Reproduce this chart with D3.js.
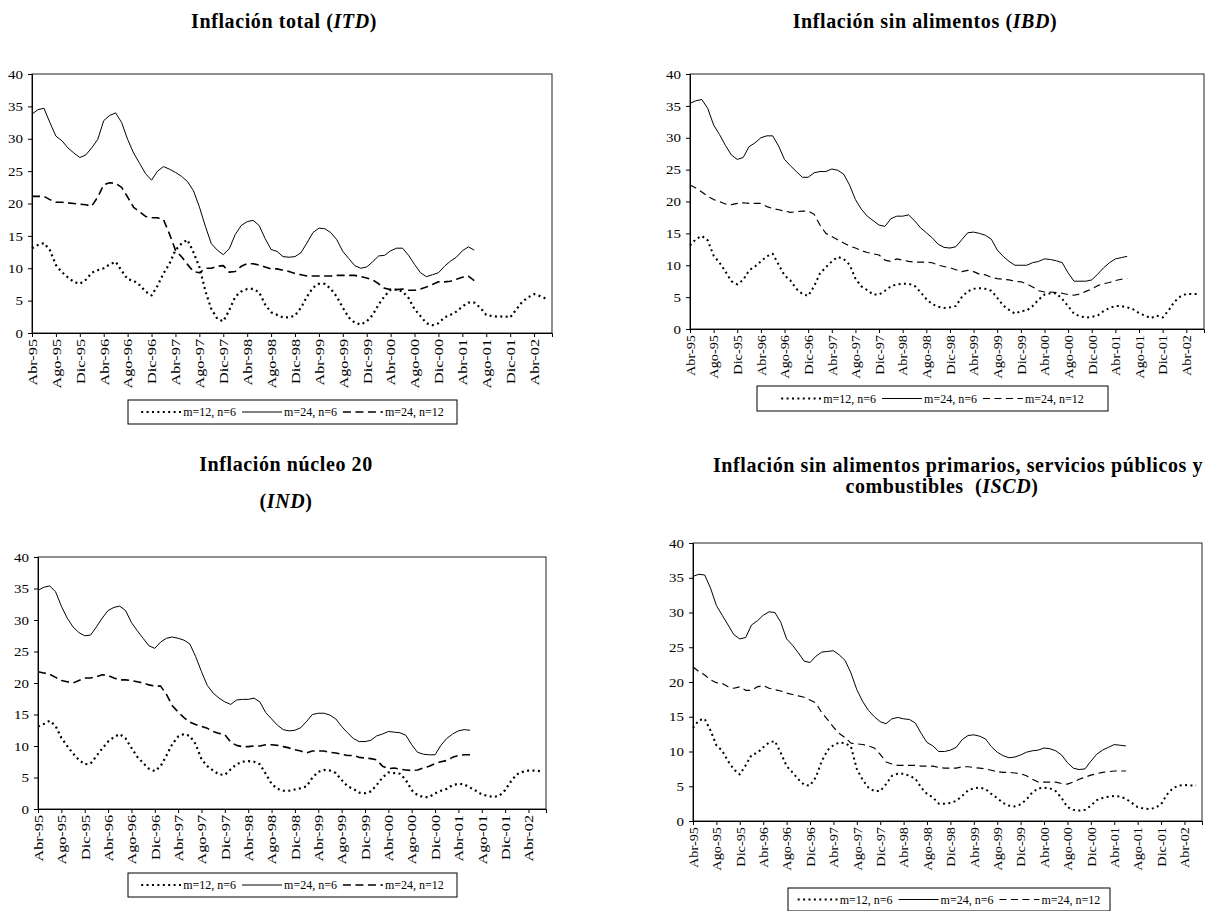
<!DOCTYPE html>
<html>
<head>
<meta charset="utf-8">
<script src="https://cdn.jsdelivr.net/npm/d3@7"></script>
<style>
  body { margin: 0; background: #fff; }
  svg { display: block; }
  text { font-family: "Liberation Serif", "Times New Roman", serif; fill: #000; }
</style>
</head>
<body>
<svg id="chart" width="1211" height="911"></svg>
<script>
// Monthly categories Abr-95 .. Jul-02
const monthNames = ["Ene","Feb","Mar","Abr","May","Jun","Jul","Ago","Sep","Oct","Nov","Dic"];
const firstMonth = 3, firstYear = 1995, monthCount = 88;

const xTickLabels = ["Abr-95","Ago-95","Dic-95","Abr-96","Ago-96","Dic-96","Abr-97","Ago-97","Dic-97",
  "Abr-98","Ago-98","Dic-98","Abr-99","Ago-99","Dic-99","Abr-00","Ago-00","Dic-00",
  "Abr-01","Ago-01","Dic-01","Abr-02"];
const yTickValues = [0, 5, 10, 15, 20, 25, 30, 35, 40];
const seriesNames = ["m=12, n=6", "m=24, n=6", "m=24, n=12"];

// Inflación total (ITD)
const itdM12n6 = [13.1,13.6,13.9,12.8,10.5,9.4,8.6,7.9,7.6,8.2,
  9.3,9.7,10.0,10.6,11.0,9.6,8.3,8.1,7.4,6.4,
  5.8,7.3,9.2,10.7,12.8,13.8,14.4,12.5,10.2,6.5,
  3.7,2.2,1.8,3.5,5.6,6.4,6.8,6.8,6.3,4.4,
  3.2,2.8,2.4,2.4,2.7,3.9,5.6,7.0,7.6,7.6,
  6.8,5.6,3.9,2.4,1.6,1.3,1.8,2.8,4.4,5.7,
  6.7,6.7,6.4,5.4,3.7,2.6,1.5,1.2,1.5,2.4,
  2.8,3.3,4.1,4.7,4.7,3.9,2.8,2.6,2.5,2.6,
  2.4,3.6,4.8,5.5,6.0,5.7,5.3];
const itdM24n6 = [33.8,34.5,34.7,32.5,30.4,29.7,28.6,27.8,27.1,27.5,
  28.6,29.9,32.8,33.6,34.0,32.5,29.9,27.8,26.2,24.6,
  23.6,25.0,25.7,25.3,24.8,24.2,23.4,22.0,19.5,16.5,
  13.8,12.8,12.1,13.0,15.2,16.6,17.2,17.4,16.6,14.6,
  12.9,12.6,11.8,11.7,11.8,12.4,13.9,15.5,16.2,16.1,
  15.5,14.4,12.6,11.5,10.4,10.0,10.2,11.0,11.9,12.0,
  12.7,13.1,13.1,12.0,10.6,9.3,8.7,9.0,9.3,10.3,
  11.1,11.7,12.7,13.3,12.8];
const itdM24n12 = [21.1,21.1,21.1,20.6,20.2,20.2,20.1,20.0,19.9,19.8,
  19.6,21.0,22.9,23.2,23.1,22.5,21.0,19.4,18.7,18.0,
  17.8,17.8,17.5,15.3,12.8,11.8,10.6,9.5,9.3,10.0,
  10.0,10.3,10.4,9.4,9.5,10.3,10.7,10.7,10.5,10.2,
  9.9,9.9,9.7,9.5,9.2,9.0,8.8,8.8,8.8,8.8,
  8.8,8.9,8.9,8.9,8.9,8.7,8.5,8.2,7.6,6.9,
  6.7,6.7,6.8,6.6,6.6,6.8,7.1,7.5,7.9,7.9,
  8.0,8.3,8.6,8.8,8.1];

// Inflación sin alimentos (IBD)
const ibdM12n6 = [13.1,14.1,14.6,13.9,11.5,10.4,9.0,7.5,7.0,7.7,
  9.2,9.8,10.6,11.4,11.8,10.1,8.4,7.6,6.3,5.5,
  5.2,6.7,8.7,9.7,10.6,11.3,11.0,10.1,7.9,6.7,
  6.1,5.4,5.4,6.0,6.7,7.0,7.1,7.1,6.8,5.8,
  4.7,3.9,3.5,3.3,3.4,3.6,5.0,5.9,6.3,6.4,
  6.3,6.0,4.9,3.7,3.0,2.4,2.8,2.9,3.6,4.6,
  5.4,5.6,5.6,4.7,3.6,2.4,2.0,1.8,1.9,2.1,
  2.8,3.3,3.6,3.6,3.4,3.1,2.5,2.1,1.7,2.1,
  1.8,2.9,4.3,5.1,5.5,5.5,5.5];
const ibdM24n6 = [35.4,35.8,36.0,34.6,32.0,30.5,28.8,27.3,26.6,26.9,
  28.6,29.2,30.0,30.3,30.3,28.7,26.6,25.6,24.7,23.8,
  23.8,24.5,24.7,24.7,25.1,24.9,24.3,22.6,20.3,18.8,
  17.7,17.0,16.3,16.1,17.3,17.7,17.7,17.9,17.0,15.9,
  15.1,14.3,13.3,12.8,12.7,12.9,14.0,15.1,15.2,15.0,
  14.7,14.1,12.4,11.4,10.6,10.0,10.0,10.0,10.4,10.6,
  11.0,10.9,10.7,10.4,8.8,7.5,7.5,7.5,7.7,8.6,
  9.6,10.4,11.0,11.2,11.4];
const ibdM24n12 = [22.6,22.1,21.5,20.8,20.3,20.0,19.6,19.5,19.7,19.8,
  19.7,19.7,19.7,19.2,18.9,18.7,18.5,18.3,18.4,18.5,
  18.5,18.0,16.3,15.0,14.5,14.0,13.5,13.0,12.7,12.3,
  12.0,11.8,11.6,10.8,10.6,11.0,10.8,10.6,10.5,10.5,
  10.5,10.4,10.0,9.8,9.6,9.3,9.0,9.2,9.0,8.6,
  8.5,8.1,7.9,7.8,7.7,7.5,7.4,7.1,6.6,6.0,
  5.8,5.8,5.7,5.6,5.4,5.3,5.5,5.9,6.3,6.8,
  7.1,7.3,7.6,7.8,7.9];

// Inflación núcleo 20 (IND)
const indM12n6 = [13.1,13.5,14.0,13.2,11.3,10.0,8.8,7.8,7.1,7.2,
  8.4,9.6,10.7,11.4,11.9,11.2,9.7,8.3,7.3,6.4,
  6.0,6.8,8.5,10.3,11.5,11.9,11.6,10.3,7.9,6.8,
  6.1,5.5,5.4,6.3,7.1,7.5,7.6,7.5,7.1,5.6,
  4.0,3.2,2.9,2.9,3.1,3.3,3.6,5.0,5.9,6.2,
  6.1,5.7,4.6,3.6,3.2,2.6,2.5,2.8,3.8,5.0,
  5.8,5.7,5.6,4.6,3.0,2.2,1.9,1.9,2.5,2.9,
  3.2,3.8,4.0,3.9,3.4,2.9,2.3,2.1,1.9,2.1,
  3.0,4.4,5.5,5.9,6.1,6.1,6.0];
const indM24n6 = [34.7,35.2,35.4,34.5,32.2,30.3,28.9,28.0,27.5,27.6,
  28.9,30.3,31.5,32.0,32.2,31.5,29.6,28.3,27.1,25.9,
  25.5,26.5,27.1,27.3,27.1,26.8,26.2,24.2,21.8,19.6,
  18.4,17.6,17.0,16.6,17.3,17.4,17.4,17.6,17.0,15.3,
  14.3,13.3,12.6,12.4,12.5,12.9,13.9,15.0,15.2,15.2,
  14.9,14.3,13.1,12.1,11.2,10.7,10.7,10.9,11.6,11.9,
  12.3,12.2,12.1,11.7,10.2,9.0,8.7,8.6,8.6,10.1,
  11.2,11.9,12.4,12.6,12.5];
const indM24n12 = [21.8,21.6,21.4,20.9,20.4,20.2,20.0,20.4,20.8,20.8,
  21.0,21.3,21.2,20.8,20.5,20.5,20.4,20.2,20.0,19.7,
  19.5,19.5,18.2,16.4,15.4,14.5,13.8,13.4,13.1,12.8,
  12.3,12.0,11.8,10.6,10.1,9.9,9.9,10.0,10.0,10.2,
  10.2,10.1,9.9,9.7,9.4,9.2,8.9,9.2,9.2,9.2,
  9.0,8.9,8.7,8.5,8.5,8.2,8.1,8.0,7.8,6.8,
  6.4,6.5,6.3,6.2,6.1,6.2,6.5,6.8,7.2,7.5,
  7.7,8.2,8.5,8.6,8.6];

// Inflación sin alimentos primarios, servicios públicos y combustibles (ISCD)
const iscdM12n6 = [13.4,14.5,14.7,13.0,10.9,10.1,8.6,7.4,6.7,8.0,
  9.5,9.8,10.6,11.3,11.5,9.8,7.9,7.0,6.0,5.2,
  5.1,6.3,8.6,10.2,10.9,11.3,11.2,10.7,7.5,5.9,
  4.8,4.3,4.3,5.3,6.5,6.8,6.8,6.5,6.1,4.8,
  3.9,3.4,2.5,2.5,2.6,2.9,3.6,4.4,4.7,4.8,
  4.6,3.9,3.3,2.6,2.2,2.1,2.4,3.1,4.1,4.7,
  4.8,4.7,4.3,3.3,2.0,1.6,1.5,1.6,2.2,3.0,
  3.3,3.5,3.6,3.5,3.2,2.6,2.0,1.8,1.7,1.9,
  2.4,3.8,4.7,5.1,5.2,5.1,5.1];
const iscdM24n6 = [35.2,35.5,35.4,33.5,31.0,29.6,28.2,26.8,26.2,26.4,
  28.2,28.8,29.6,30.1,30.0,28.6,26.2,25.3,24.2,23.0,
  22.8,23.7,24.3,24.4,24.5,23.9,23.1,21.3,18.9,17.2,
  15.9,15.0,14.3,14.0,14.7,14.9,14.7,14.6,14.1,12.6,
  11.3,10.8,10.0,10.0,10.2,10.6,11.7,12.3,12.4,12.2,
  11.8,10.7,9.9,9.4,9.1,9.2,9.5,9.9,10.1,10.2,
  10.5,10.4,10.1,9.5,8.4,7.6,7.4,7.5,8.6,9.6,
  10.2,10.6,11.0,10.9,10.8];
const iscdM24n12 = [22.2,21.5,21.0,20.3,19.9,19.8,19.3,19.1,19.3,18.8,
  18.8,19.3,19.5,19.1,18.9,18.7,18.4,18.2,18.0,17.8,
  17.4,17.0,15.6,14.6,13.5,12.6,12.0,11.2,11.1,11.0,
  10.8,10.5,9.6,8.5,8.2,8.0,8.0,8.0,8.0,7.9,
  7.9,7.9,7.7,7.6,7.6,7.6,7.8,7.8,7.7,7.6,
  7.5,7.3,7.1,7.0,7.0,6.9,6.8,6.5,6.0,5.6,
  5.6,5.6,5.6,5.4,5.3,5.6,6.0,6.3,6.6,6.8,
  7.0,7.1,7.2,7.2,7.2];

// ---------------------------------------------------------------------------
const categories = [];
for (let k = 0; k < monthCount; k++) {
  const m = (firstMonth + k) % 12;
  const yr = firstYear + Math.floor((firstMonth + k) / 12);
  categories.push(monthNames[m] + "-" + String(yr).slice(2));
}

// Line styles for the three series (dotted, solid, dashed)
const styleSets = {
  heavy: [
    { width: 2.2, dash: "2,3.4" },
    { width: 1, dash: null },
    { width: 1.6, dash: "8,4.5" }
  ],
  light: [
    { width: 2.0, dash: "2,3.4" },
    { width: 1, dash: null },
    { width: 1.15, dash: "7,4.5" }
  ]
};

const panels = [
  {
    title: [[["Inflación total (", false], ["ITD", true], [")", false]]],
    titleY: [28], titleX: [284],
    plot: { l: 32, t: 74, r: 552, b: 333 },
    series: [itdM12n6, itdM24n6, itdM24n12],
    legend: { x: 128, y: 400, w: 329, h: 24 },
    xStretch: 1.25, styles: "heavy"
  },
  {
    title: [[["Inflación sin alimentos (", false], ["IBD", true], [")", false]]],
    titleY: [28], titleX: [925],
    plot: { l: 690, t: 74, r: 1204, b: 329 },
    series: [ibdM12n6, ibdM24n6, ibdM24n12],
    legend: { x: 757, y: 386, w: 351, h: 25 },
    xStretch: 1.1, styles: "light"
  },
  {
    title: [[["Inflación núcleo 20", false]], [["(", false], ["IND", true], [")", false]]],
    titleY: [471, 508], titleX: [286, 286],
    plot: { l: 38, t: 557, r: 546, b: 809 },
    series: [indM12n6, indM24n6, indM24n12],
    legend: { x: 128, y: 873, w: 329, h: 24 },
    xStretch: 1.25, styles: "heavy"
  },
  {
    title: [[["Inflación sin alimentos primarios, servicios públicos y", false]],
            [["combustibles  (", false], ["ISCD", true], [")", false]]],
    titleY: [472, 493], titleX: [958, 942],
    plot: { l: 693, t: 543, r: 1202, b: 821 },
    series: [iscdM12n6, iscdM24n6, iscdM24n12],
    legend: { x: 788, y: 888, w: 322, h: 23 },
    xStretch: 1.1, styles: "light"
  }
];

const svg = d3.select("#chart");

panels.forEach(p => {
  const g = svg.append("g");
  const styles = styleSets[p.styles];

  // Title lines
  p.title.forEach((parts, li) => {
    const t = g.append("text")
      .attr("x", p.titleX[li]).attr("y", p.titleY[li])
      .attr("text-anchor", "middle")
      .style("font-size", "20px").style("font-weight", "bold")
      .style("letter-spacing", "0.6px")
      .style("white-space", "pre");
    parts.forEach(([s, it]) => {
      t.append("tspan").text(s).style("font-style", it ? "italic" : "normal");
    });
  });

  const x = d3.scalePoint().domain(categories).range([p.plot.l, p.plot.r]);
  const y = d3.scaleLinear().domain([0, 40]).range([p.plot.b, p.plot.t]);

  // Plot area frame
  g.append("rect")
    .attr("x", p.plot.l).attr("y", p.plot.t)
    .attr("width", p.plot.r - p.plot.l).attr("height", p.plot.b - p.plot.t)
    .attr("fill", "none").attr("stroke", "#222").attr("stroke-width", 1);

  // Series
  const line = d3.line().x((d, i) => x(categories[i])).y(d => y(d));
  p.series.forEach((data, si) => {
    g.append("path").datum(data)
      .attr("d", line)
      .attr("fill", "none")
      .attr("stroke", "#000")
      .attr("stroke-width", styles[si].width)
      .attr("stroke-dasharray", styles[si].dash)
      .attr("stroke-linejoin", "round");
  });

  // Y axis (labels slightly widened)
  const ya = g.append("g").attr("transform", `translate(${p.plot.l},0)`)
    .call(d3.axisLeft(y).tickValues(yTickValues).tickSize(4).tickPadding(5));
  ya.select(".domain").attr("stroke", "#000");
  ya.selectAll("text")
    .style("font-size", "13px").style("font-family", "Liberation Serif")
    .attr("x", 0).attr("transform", "translate(-9,0) scale(1.15,1)");

  // X axis with rotated month labels, stretched along their length
  const xa = g.append("g").attr("transform", `translate(0,${p.plot.b})`)
    .call(d3.axisBottom(x).tickValues(xTickLabels).tickSize(4));
  xa.select(".domain").attr("stroke", "#000");
  xa.selectAll("text")
    .style("font-size", "13px").style("font-family", "Liberation Serif")
    .attr("transform", `rotate(-90) scale(${p.xStretch},1)`)
    .attr("text-anchor", "end")
    .attr("x", -6 / p.xStretch).attr("y", 0).attr("dy", "0.33em");

  // Legend
  const lg = g.append("g");
  lg.append("rect")
    .attr("x", p.legend.x).attr("y", p.legend.y)
    .attr("width", p.legend.w).attr("height", p.legend.h)
    .attr("fill", "#fff").attr("stroke", "#000").attr("stroke-width", 1);
  const cy = p.legend.y + p.legend.h / 2;
  const sampleLen = 40, gapText = 2, gapItem = 6;
  const items = seriesNames.map((name, si) => {
    const it = lg.append("g");
    it.append("line").attr("y1", cy).attr("y2", cy)
      .attr("stroke", "#000").attr("stroke-width", styles[si].width)
      .attr("stroke-dasharray", styles[si].dash);
    const tx = it.append("text").text(name).attr("y", cy).attr("dy", "0.35em")
      .style("font-size", "12px");
    return { it, tx, w: tx.node().getComputedTextLength() };
  });
  const total = d3.sum(items, d => d.w) + items.length * (sampleLen + gapText) + gapItem * (items.length - 1);
  let cx = p.legend.x + (p.legend.w - total) / 2;
  items.forEach(d => {
    d.it.select("line").attr("x1", cx).attr("x2", cx + sampleLen);
    d.tx.attr("x", cx + sampleLen + gapText);
    cx += sampleLen + gapText + d.w + gapItem;
  });
});
</script>
</body>
</html>
